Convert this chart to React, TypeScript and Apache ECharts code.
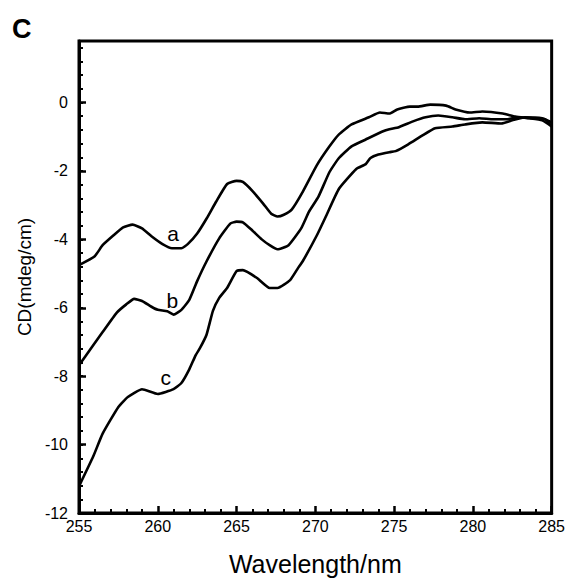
import React, { useEffect, useRef } from "react";
import * as echarts from "echarts";

// Wavelength (nm) and CD (mdeg/cm)
const waveA = [255.0, 256.0, 256.5, 257.2, 257.8, 258.4, 259.0, 259.6, 260.3, 260.9, 261.5, 261.9, 262.5, 263.1, 263.7, 264.4, 265.0, 265.4, 266.0, 266.7, 267.2, 267.6, 268.0, 268.5, 269.2, 270.1, 270.9, 271.5, 272.3, 273.4, 274.1, 274.7, 275.2, 276.0, 276.5, 277.3, 278.3, 278.9, 279.8, 280.6, 281.9, 282.7, 283.6, 284.4, 285.0];
const cdA = [-4.75, -4.49, -4.17, -3.88, -3.65, -3.57, -3.68, -3.91, -4.14, -4.26, -4.26, -4.14, -3.83, -3.39, -2.9, -2.38, -2.29, -2.32, -2.58, -2.96, -3.25, -3.33, -3.28, -3.13, -2.61, -1.83, -1.28, -0.93, -0.64, -0.43, -0.29, -0.32, -0.2, -0.12, -0.12, -0.06, -0.09, -0.2, -0.29, -0.26, -0.32, -0.41, -0.46, -0.52, -0.7];

const waveB = [255.0, 255.8, 256.5, 257.4, 258.0, 258.5, 259.0, 259.6, 260.0, 260.6, 261.0, 261.5, 262.0, 262.5, 263.1, 263.9, 264.6, 265.0, 265.4, 266.0, 266.6, 267.1, 267.6, 268.3, 269.1, 269.6, 270.2, 270.9, 271.5, 272.3, 273.2, 274.3, 274.7, 275.3, 276.2, 277.0, 277.8, 278.7, 279.5, 280.4, 281.3, 282.1, 282.9, 283.8, 284.6, 285.0];
const cdB = [-7.68, -7.16, -6.71, -6.14, -5.9, -5.74, -5.8, -5.97, -6.06, -6.1, -6.2, -6.06, -5.77, -5.22, -4.64, -3.97, -3.54, -3.48, -3.5, -3.74, -4.0, -4.17, -4.29, -4.17, -3.68, -3.19, -2.75, -2.03, -1.62, -1.28, -1.08, -0.84, -0.78, -0.72, -0.55, -0.43, -0.38, -0.43, -0.49, -0.46, -0.49, -0.49, -0.43, -0.46, -0.49, -0.7];

const waveC = [255.0, 255.9, 256.5, 257.5, 258.1, 259.0, 260.0, 261.0, 261.5, 262.0, 262.4, 262.7, 263.1, 263.5, 263.9, 264.4, 265.0, 265.4, 266.3, 267.1, 267.6, 268.4, 268.9, 269.2, 270.1, 270.7, 271.5, 272.6, 273.2, 273.5, 274.0, 274.7, 275.1, 275.9, 276.8, 277.6, 278.7, 279.5, 280.6, 281.8, 282.5, 283.3, 284.4, 285.0];
const cdC = [-11.22, -10.35, -9.68, -8.9, -8.61, -8.38, -8.52, -8.38, -8.2, -7.8, -7.39, -7.16, -6.78, -6.09, -5.71, -5.42, -4.93, -4.9, -5.13, -5.42, -5.42, -5.19, -4.84, -4.64, -3.88, -3.3, -2.52, -1.94, -1.8, -1.62, -1.52, -1.45, -1.42, -1.22, -0.96, -0.75, -0.7, -0.64, -0.58, -0.61, -0.52, -0.43, -0.46, -0.58];

const curveNames = ["a", "b", "c"];
const labelX = [260.97, 260.93, 260.5];
const labelY = [-3.82, -5.8, -8.05];

const xTicks = [255, 260, 265, 270, 275, 280, 285];
const yTicks = [-12, -10, -8, -6, -4, -2, 0];

const FONT = "'Liberation Sans', Arial, Helvetica, sans-serif";

const pairs = (xs: number[], ys: number[]) => xs.map((x, i) => [x, ys[i]]);

export default function App() {
  const ref = useRef<HTMLDivElement>(null);
  useEffect(() => {
    if (!ref.current) return;
    const chart = echarts.init(ref.current, undefined, { renderer: "svg" });
    const lineStyle = { color: "#000", width: 2.6 };
    const series: any[] = [
      { name: "a", data: pairs(waveA, cdA) },
      { name: "b", data: pairs(waveB, cdB) },
      { name: "c", data: pairs(waveC, cdC) },
    ].map((s) => ({
      type: "line",
      name: s.name,
      data: s.data,
      xAxisIndex: 0,
      yAxisIndex: 0,
      symbol: "none",
      smooth: 0.15,
      lineStyle,
      silent: true,
    }));
    series.push({
      type: "scatter",
      name: "labels",
      xAxisIndex: 0,
      yAxisIndex: 0,
      symbolSize: 0,
      itemStyle: { color: "#000", opacity: 1 },
      silent: true,
      data: curveNames.map((n, i) => ({ value: [labelX[i], labelY[i]], name: n })),
      label: {
        show: true,
        position: "inside",
        formatter: (p: any) => p.name,
        color: "#000",
        opacity: 1,
        textBorderWidth: 0,
        fontSize: 21,
        fontFamily: FONT,
      },
    });
    chart.setOption({
      animation: false,
      backgroundColor: "#fff",
      grid: {
        left: 79,
        right: 15,
        top: 41,
        bottom: 64,
        show: true,
        borderColor: "#000",
        borderWidth: 3,
        backgroundColor: "transparent",
      },
      xAxis: [
        {
          type: "value",
          min: xTicks[0],
          max: xTicks[xTicks.length - 1],
          interval: 5,
          name: "Wavelength/nm",
          nameLocation: "middle",
          nameGap: 38,
          nameTextStyle: { fontSize: 25, fontFamily: FONT, color: "#000" },
          axisLine: { show: true, onZero: false, lineStyle: { color: "#000", width: 3 } },
          axisTick: { show: true, inside: true, length: 7, lineStyle: { color: "#000", width: 2.5 } },
          minorTick: { show: true, splitNumber: 5, length: 4, lineStyle: { color: "#000", width: 2 } },
          axisLabel: { fontSize: 16, fontFamily: FONT, color: "#000", margin: 5 },
          splitLine: { show: false },
          minorSplitLine: { show: false },
        },
      ],
      yAxis: [
        {
          type: "value",
          min: yTicks[0],
          max: 1.8,
          interval: 2,
          name: "CD(mdeg/cm)",
          nameLocation: "middle",
          nameGap: 41,
          nameTextStyle: { fontSize: 19, fontFamily: FONT, color: "#000" },
          axisLine: { show: true, onZero: false, lineStyle: { color: "#000", width: 3 } },
          axisTick: { show: true, inside: true, length: 7, lineStyle: { color: "#000", width: 2.5 } },
          axisLabel: { fontSize: 16, fontFamily: FONT, color: "#000", margin: 11, showMaxLabel: false },
          splitLine: { show: false },
        },
        {
          type: "value",
          min: yTicks[0],
          max: 1.8,
          interval: 0.4,
          position: "left",
          axisLine: { show: false, onZero: false },
          axisTick: { show: true, inside: true, length: 4, lineStyle: { color: "#000", width: 2 } },
          axisLabel: { show: false },
          splitLine: { show: false },
        },
      ],
      graphic: [
        {
          type: "text",
          left: 12,
          top: 15,
          style: { text: "C", font: `bold 27px ${FONT}`, fill: "#000" },
        },
      ],
      series,
    });
    return () => chart.dispose();
  }, []);
  return <div ref={ref} style={{ width: 568, height: 581, position: "absolute", left: 0, top: 0 }} />;
}
